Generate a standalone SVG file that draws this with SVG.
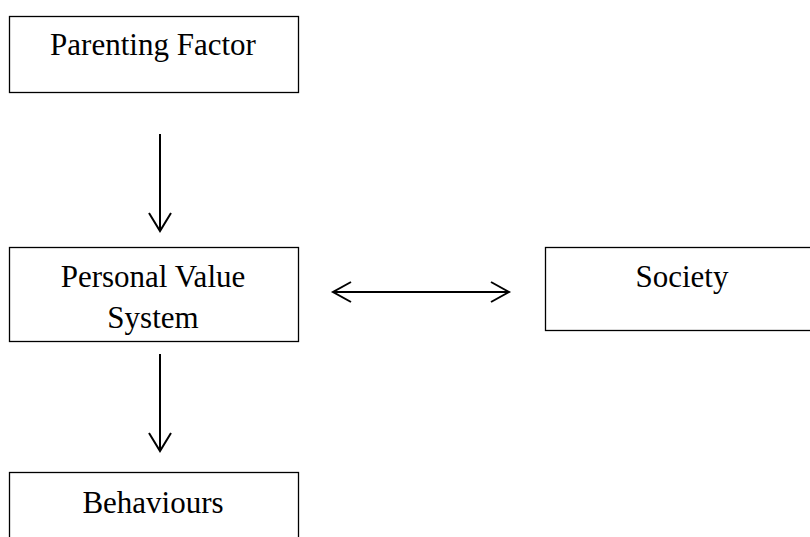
<svg xmlns="http://www.w3.org/2000/svg" width="810" height="537" viewBox="0 0 810 537">
<style>
.box{fill:#fff;stroke:#000;stroke-width:1.3}
.lbl{font-family:"Liberation Serif","Times New Roman",serif;font-size:31px;fill:#000;text-anchor:middle}
.con{fill:none;stroke:#000;stroke-width:2}
</style>
<rect width="810" height="537" fill="#fff"/>
<g id="parenting">
<rect class="box" x="9.5" y="16.5" width="289" height="76"/>
<text class="lbl" x="153" y="55">Parenting Factor</text>
</g>
<g id="personal">
<rect class="box" x="9.5" y="247.5" width="289" height="94"/>
<text class="lbl" x="153" y="287">Personal Value</text>
<text class="lbl" x="153" y="328">System</text>
</g>
<g id="society">
<rect class="box" x="545.5" y="247.5" width="272" height="83"/>
<text class="lbl" x="682" y="287">Society</text>
</g>
<g id="behaviours">
<rect class="box" x="9.5" y="472.5" width="289" height="80"/>
<text class="lbl" x="153" y="513">Behaviours</text>
</g>
<g id="connectors">
<path class="con" d="M160 134V231M149 213L160 231L171 213"/>
<path class="con" d="M160 354V451M149 433L160 451L171 433"/>
<path class="con" d="M333 292H509M351 282L333 292L351 302M491 282L509 292L491 302"/>
</g>
</svg>
